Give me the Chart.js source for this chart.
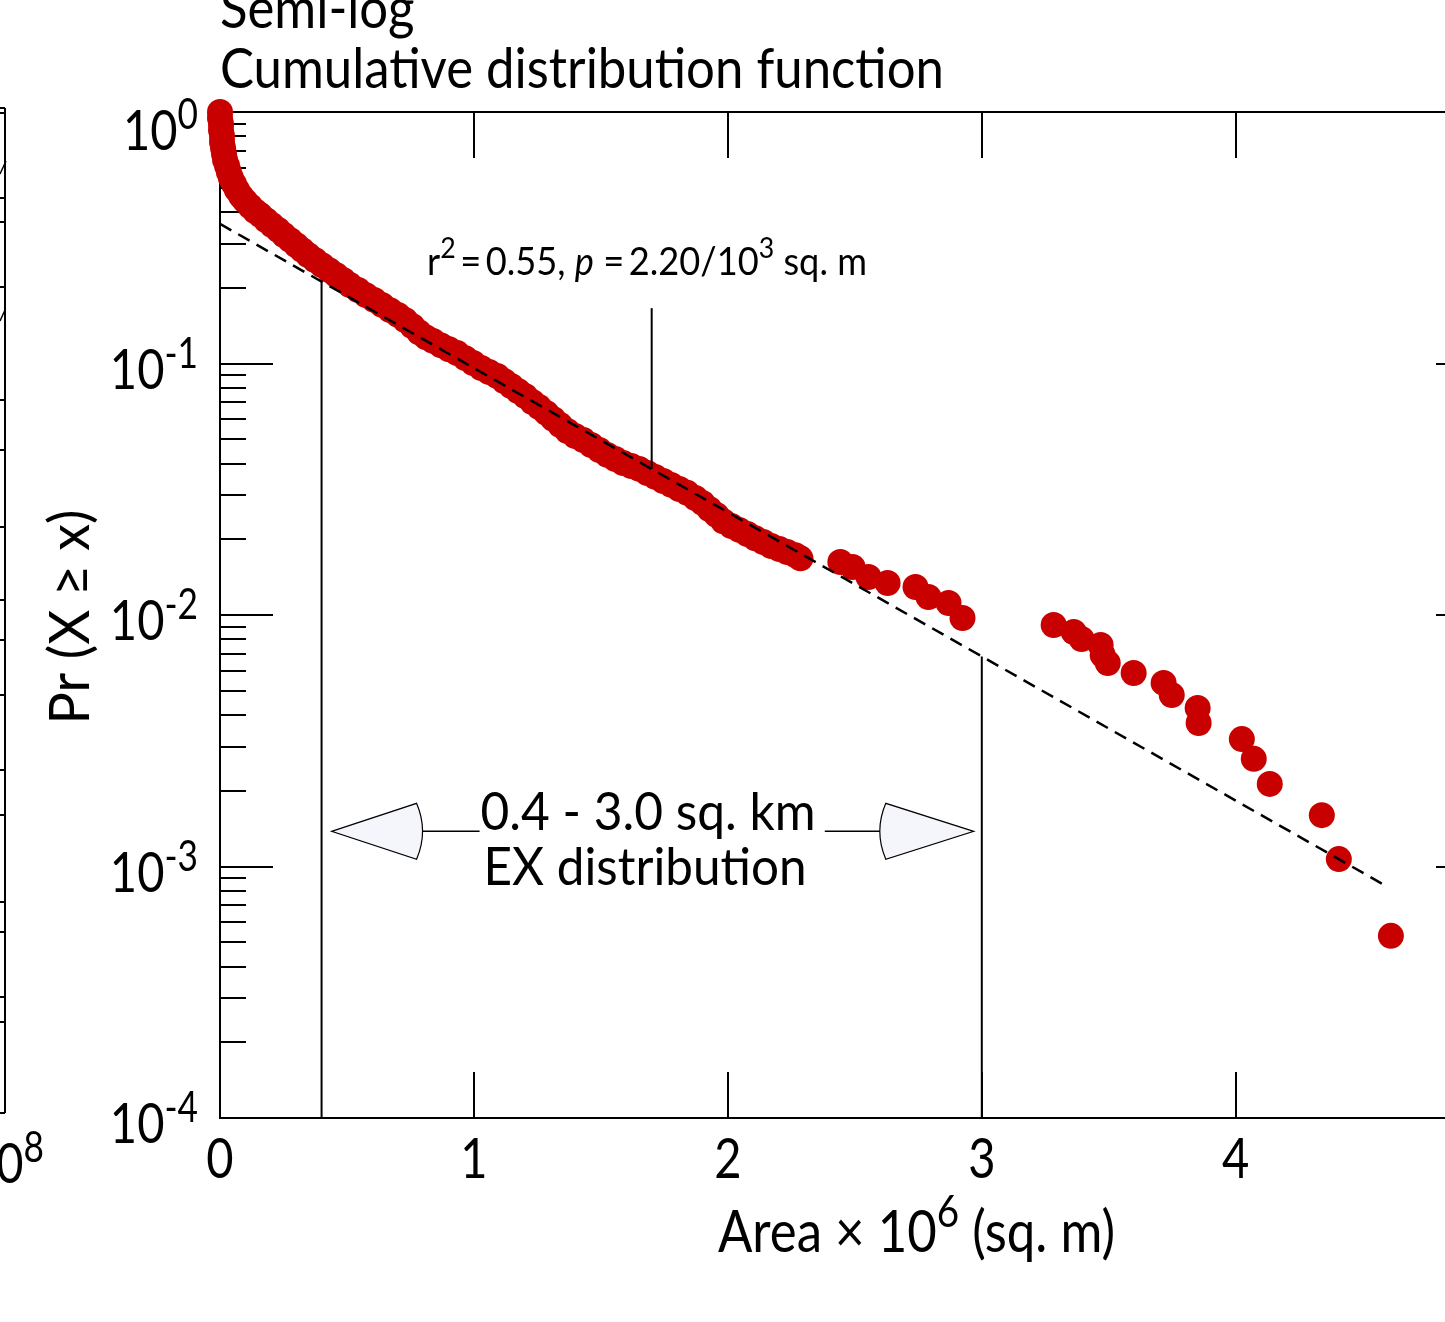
<!DOCTYPE html>
<html>
<head>
<meta charset="utf-8">
<script src="https://cdn.jsdelivr.net/npm/chart.js@4.4.1/dist/chart.umd.min.js"></script>
<style>
  html, body { margin: 0; padding: 0; background: #fff; overflow: hidden; }
  #wrap { position: relative; width: 1460px; height: 1322px; }
</style>
</head>
<body>
<div id="wrap"><canvas id="cdf"></canvas></div>
<script>
// area (x 10^6 sq. m) and exceedance probability of every plotted landslide
const areaX = [
  0.000, 0.000, 0.004, 0.004, 0.008, 0.008, 0.012, 0.016, 0.020, 0.028,
  0.035, 0.043, 0.055, 0.067, 0.083, 0.099, 0.118, 0.138, 0.158, 0.181,
  0.205, 0.229, 0.252, 0.276, 0.300, 0.323, 0.347, 0.374, 0.402, 0.430,
  0.457, 0.485, 0.512, 0.544, 0.575, 0.607, 0.638, 0.670, 0.701, 0.729,
  0.757, 0.784, 0.812, 0.839, 0.871, 0.902, 0.934, 0.966, 0.997, 1.029,
  1.060, 1.092, 1.119, 1.147, 1.174, 1.202, 1.230, 1.257, 1.285, 1.312,
  1.340, 1.368, 1.399, 1.431, 1.462, 1.494, 1.525, 1.557, 1.588, 1.620,
  1.651, 1.683, 1.714, 1.746, 1.777, 1.809, 1.840, 1.872, 1.900, 1.927,
  1.955, 1.982, 2.014, 2.045, 2.077, 2.108, 2.140, 2.171, 2.203, 2.234,
  2.266, 2.286,
  2.443, 2.491, 2.554, 2.629, 2.739, 2.790, 2.869, 2.924,
  3.283, 3.362, 3.393, 3.468, 3.476, 3.496, 3.598, 3.716, 3.748, 3.850,
  3.854, 4.024, 4.071, 4.134, 4.339, 4.406, 4.611
];
const prob = [
  1.000, 0.946, 0.896, 0.848, 0.803, 0.760, 0.719, 0.681, 0.644, 0.610,
  0.577, 0.547, 0.517, 0.490, 0.463, 0.443, 0.423, 0.404, 0.390, 0.372,
  0.355, 0.340, 0.324, 0.310, 0.296, 0.283, 0.270, 0.258, 0.246, 0.235,
  0.225, 0.215, 0.205, 0.196, 0.187, 0.179, 0.171, 0.163, 0.156, 0.149,
  0.141, 0.133, 0.127, 0.123, 0.118, 0.114, 0.110, 0.105, 0.1005, 0.0960,
  0.0925, 0.0892, 0.0852, 0.0814, 0.0777, 0.0743, 0.0703, 0.0671, 0.0636, 0.0602,
  0.0569, 0.0539, 0.0515, 0.0496, 0.0474, 0.0453, 0.0433, 0.0417, 0.0402, 0.0391,
  0.0381, 0.0367, 0.0354, 0.0341, 0.0329, 0.0317, 0.0306, 0.0292, 0.0279, 0.0264,
  0.0250, 0.0236, 0.0226, 0.0218, 0.0210, 0.0202, 0.0195, 0.0188, 0.0183, 0.0178,
  0.0173, 0.0168,
  0.01624, 0.01552, 0.01416, 0.01341, 0.01292, 0.01179, 0.01116, 0.00973,
  0.00912, 0.00856, 0.00803, 0.00760, 0.00693, 0.00644, 0.00588, 0.00537, 0.00481, 0.00427,
  0.00372, 0.00321, 0.00268, 0.00213, 0.00160, 0.00107, 0.00053
];

// exponential fit (straight on semi-log axes)
const fitX = [0, 4.58];
const fitY = [0.359, 0.00085];

// range limits of the EX fit and the pointer of the r2 label
const rangeX = [0.4, 3.0];
const noteX = 1.7;
const noteTop = 0.166;

const xTicks = [1, 2, 3, 4];
const xTickLabels = ['0', '1', '2', '3', '4'];
const yDecades = [1, 0.1, 0.01, 0.001, 0.0001];
const yExponents = ['0', '-1', '-2', '-3', '-4'];

const FONT = 'Lato, "Open Sans", sans-serif';
const RED = '#c80000';

function fitAt(x) {
  const a = Math.log10(fitY[0]), b = Math.log10(fitY[1]);
  return Math.pow(10, a + (b - a) * (x - fitX[0]) / (fitX[1] - fitX[0]));
}

const points = areaX.map((x, i) => ({ x: x, y: prob[i] }));
const fitLine = fitX.map((x, i) => ({ x: x, y: fitY[i] }));
const rangeLines = rangeX.map(x => [{ x: x, y: 1e-4 }, { x: x, y: fitAt(x) }]);
const noteLine = [{ x: noteX, y: fitAt(noteX) }, { x: noteX, y: noteTop }];

// draws a row of text runs (size, italic, baseline shift), squeezed horizontally
function runs(ctx, parts, x, y, align, sx, width) {
  let total = 0;
  parts.forEach(p => {
    ctx.font = (p.it ? 'italic ' : '') + p.s + 'px ' + FONT;
    p.w = ctx.measureText(p.t).width;
    total += p.w;
  });
  if (width) sx = width / total;
  const w = total * sx;
  let x0 = align === 'left' ? x : align === 'right' ? x - w : x - w / 2;
  ctx.save();
  ctx.translate(x0, y);
  ctx.scale(sx, 1);
  ctx.textAlign = 'left';
  ctx.textBaseline = 'alphabetic';
  ctx.fillStyle = '#000';
  let cx = 0;
  parts.forEach(p => {
    ctx.font = (p.it ? 'italic ' : '') + p.s + 'px ' + FONT;
    ctx.fillText(p.t, cx, p.dy || 0);
    cx += p.w;
  });
  ctx.restore();
  return sx;
}

function line(ctx, x1, y1, x2, y2) {
  ctx.beginPath();
  ctx.moveTo(x1, y1);
  ctx.lineTo(x2, y2);
  ctx.stroke();
}

const axesPlugin = {
  id: 'axesPlugin',
  beforeDatasetsDraw(chart) {
    const ctx = chart.ctx;
    const a = chart.chartArea;
    const xs = chart.scales.x, ys = chart.scales.y;
    ctx.save();
    ctx.strokeStyle = '#000';
    ctx.lineWidth = 2;
    ctx.lineCap = 'butt';

    // frame
    ctx.strokeRect(a.left, a.top, a.right - a.left, a.bottom - a.top);

    // log ticks on the left, decades on the right
    yDecades.forEach((d, k) => {
      const py = Math.round(ys.getPixelForValue(d));
      line(ctx, a.left, py, a.left + 53, py);
      line(ctx, a.right - 11, py, a.right, py);
      if (k < yDecades.length - 1) {
        for (let m = 2; m <= 9; m++) {
          const my = Math.round(ys.getPixelForValue(d / 10 * m));
          line(ctx, a.left, my, a.left + 26, my);
        }
      }
    });

    // x ticks on top and bottom
    xTicks.forEach(t => {
      const px = Math.round(xs.getPixelForValue(t));
      line(ctx, px, a.top, px, a.top + 46);
      line(ctx, px, a.bottom, px, a.bottom - 46);
    });

    // y tick labels
    yDecades.forEach((d, k) => {
      const py = ys.getPixelForValue(d);
      const base = k === 0 ? py + 38 : py + 25;
      runs(ctx, [{ t: '10', s: 56 }, { t: yExponents[k], s: 42, dy: -21 }], 198, base, 'right', 0.84);
    });

    // x tick labels
    xTickLabels.forEach((l, k) => {
      const px = xs.getPixelForValue(k);
      runs(ctx, [{ t: l, s: 56 }], px, 1178, 'center', 0.84);
    });

    // axis titles
    runs(ctx, [{ t: 'Area \u00d7 10', s: 58 }, { t: '6', s: 44, dy: -25 }, { t: ' (sq. m)', s: 58 }],
      718, 1252, 'left', 1, 397);
    ctx.save();
    ctx.translate(89, 617);
    ctx.rotate(-Math.PI / 2);
    runs(ctx, [{ t: 'Pr (X \u2265 x)', s: 57 }], 0, 0, 'center', 1, 215);
    ctx.restore();

    // chart title
    const sx = runs(ctx, [{ t: 'Cumulative distribution function', s: 56 }], 220, 88, 'left', 1, 724);
    runs(ctx, [{ t: 'Semi-log', s: 56 }], 220, 28, 'left', sx);

    // neighbouring panel, cut at the page edge
    ctx.lineWidth = 2;
    line(ctx, 5, 108, 5, 1113);
    line(ctx, 0, 1113, 5, 1113);
    line(ctx, 0, 108, 5, 108);
    [113, 198, 222, 287, 400, 450, 527, 600, 640, 695, 770, 815, 902, 932, 997, 1022].forEach(py => line(ctx, 0, py, 5, py));
    ctx.lineWidth = 1.5;
    line(ctx, 0, 174, 6, 161);
    line(ctx, 0, 321, 5, 310);
    runs(ctx, [{ t: '10', s: 56 }, { t: '8', s: 42, dy: -21 }], 44, 1183, 'right', 0.84);
    ctx.restore();
  },
  afterDatasetsDraw(chart) {
    const ctx = chart.ctx;
    const xs = chart.scales.x, ys = chart.scales.y;
    ctx.save();

    // r2 label above its pointer
    runs(ctx, [
      { t: 'r', s: 38 }, { t: '2', s: 28, dy: -17 }, { t: '\u2009=\u20090.55, ', s: 38 },
      { t: 'p', s: 38, it: true }, { t: ' =\u20092.20/10', s: 38 }, { t: '3', s: 28, dy: -17 },
      { t: ' sq. m', s: 38 }
    ], 427, 275, 'left', 1, 440);

    // range arrows between the two limits
    const lx = xs.getPixelForValue(rangeX[0]);
    const rx = xs.getPixelForValue(rangeX[1]);
    const ay = ys.getPixelForValue(1.38e-3);
    ctx.strokeStyle = '#000';
    ctx.fillStyle = '#f4f6fb';
    ctx.lineWidth = 1.2;

    const arrow = (tip, back, dir) => {
      ctx.beginPath();
      ctx.moveTo(tip, ay);
      ctx.lineTo(back, ay - 28);
      ctx.quadraticCurveTo(back + dir * 12, ay, back, ay + 28);
      ctx.closePath();
      ctx.fill();
      ctx.stroke();
    };
    arrow(lx + 10, lx + 95, 1);
    arrow(rx - 8, rx - 96, -1);
    ctx.lineWidth = 1.6;
    line(ctx, lx + 101, ay, lx + 158, ay);
    line(ctx, rx - 102, ay, rx - 157, ay);

    runs(ctx, [{ t: '0.4 - 3.0 sq. km', s: 53 }], 648, 830, 'center', 1, 335);
    runs(ctx, [{ t: 'EX distribution', s: 53 }], 645, 885, 'center', 1, 323);
    ctx.restore();
  }
};

new Chart(document.getElementById('cdf'), {
  type: 'scatter',
  data: {
    datasets: [
      {
        data: fitLine, showLine: true, borderColor: '#000', borderWidth: 2.5,
        borderDash: [13, 8], pointRadius: 0, order: 0
      },
      {
        data: rangeLines[0], showLine: true, borderColor: '#000', borderWidth: 2,
        pointRadius: 0, order: 0
      },
      {
        data: rangeLines[1], showLine: true, borderColor: '#000', borderWidth: 2,
        pointRadius: 0, order: 0
      },
      {
        data: noteLine, showLine: true, borderColor: '#000', borderWidth: 2,
        pointRadius: 0, order: 0
      },
      {
        data: points, showLine: false, pointRadius: 13, pointBackgroundColor: RED,
        pointBorderWidth: 0, borderWidth: 0, clip: false, order: 1
      }
    ]
  },
  options: {
    responsive: true,
    maintainAspectRatio: false,
    animation: false,
    devicePixelRatio: 1,
    layout: { padding: { left: 220, top: 112, right: 9, bottom: 204 } },
    plugins: { legend: { display: false }, tooltip: { enabled: false } },
    scales: {
      // the frame's right edge lands just past the page edge
      x: { type: 'linear', min: 0, max: 4.832, display: false },
      y: { type: 'logarithmic', min: 1e-4, max: 1, display: false }
    }
  },
  plugins: [axesPlugin]
});
</script>
</body>
</html>
